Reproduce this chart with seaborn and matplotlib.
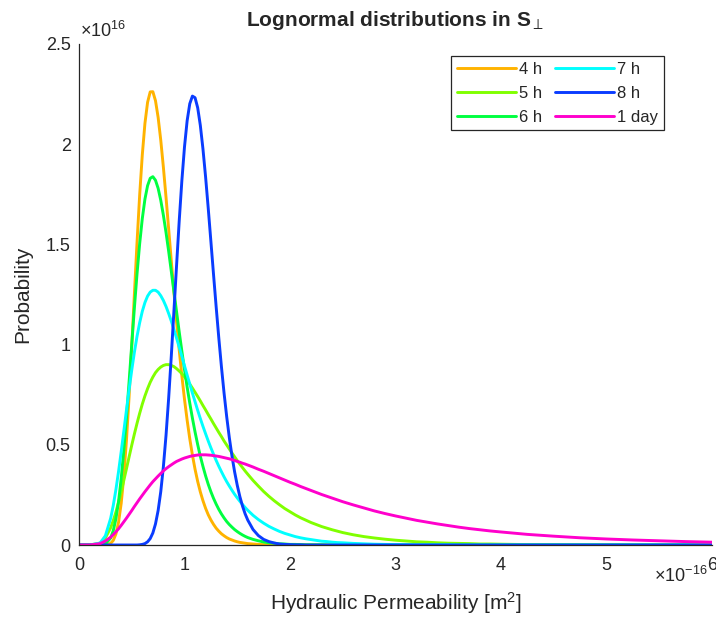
import numpy as np
import pandas as pd
import matplotlib
matplotlib.use("Agg")
import matplotlib.pyplot as plt
import seaborn as sns

sns.set_style("white")
plt.rcParams["font.family"] = ["Liberation Sans", "DejaVu Sans"]
plt.rcParams["mathtext.fontset"] = "custom"
plt.rcParams["mathtext.rm"] = "Liberation Sans"
plt.rcParams["mathtext.it"] = "Liberation Sans:italic"
plt.rcParams["mathtext.bf"] = "Liberation Sans:bold"

# Hydraulic permeability (x 1e-16 m^2)
x_perm = [0, 0.1, 0.2, 0.25,
          0.3, 0.325, 0.35, 0.375, 0.4, 0.425, 0.45, 0.475, 0.5, 0.525, 0.55, 0.575, 0.6, 0.625,
          0.65, 0.675, 0.7, 0.725, 0.75, 0.775, 0.8, 0.825, 0.85, 0.875, 0.9, 0.925, 0.95, 0.975,
          1.0, 1.025, 1.05, 1.075, 1.1, 1.125, 1.15, 1.175, 1.2, 1.225, 1.25, 1.275, 1.3, 1.325,
          1.35, 1.375, 1.4, 1.425, 1.45, 1.475, 1.5, 1.525, 1.55, 1.575, 1.6,
          1.65, 1.7, 1.75, 1.8, 1.85, 1.9, 1.95, 2.0, 2.05, 2.1, 2.15, 2.2, 2.25, 2.3, 2.35, 2.4,
          2.45, 2.5,
          2.6, 2.7, 2.8, 2.9, 3.0, 3.1, 3.2, 3.3, 3.4, 3.5, 3.6, 3.7, 3.8, 3.9, 4.0,
          4.25, 4.5, 4.75, 5.0, 5.25, 5.5, 5.75, 6.0]

# Probability (x 1e16) for each series
y_4h = [0, 0, 0, 0.001,
        0.008, 0.023, 0.055, 0.114, 0.208, 0.344, 0.524, 0.743, 0.991, 1.252, 1.509, 1.746, 1.947,
        2.104, 2.209, 2.261, 2.262, 2.217, 2.134, 2.020, 1.884, 1.734, 1.576, 1.417, 1.261, 1.112,
        0.972, 0.844, 0.727, 0.623, 0.530, 0.449, 0.378, 0.317, 0.265, 0.221, 0.183, 0.151, 0.125,
        0.103, 0.084, 0.069, 0.056, 0.046, 0.037, 0.030, 0.025, 0.020, 0.016, 0.013, 0.011, 0.009,
        0.007,
        0.005, 0.003, 0.002, 0.001, 0.001, 0.001, 0, 0, 0, 0, 0, 0, 0, 0, 0, 0, 0, 0,
        0, 0, 0, 0, 0, 0, 0, 0, 0, 0, 0, 0, 0, 0, 0,
        0, 0, 0, 0, 0, 0, 0, 0]

y_5h = [0, 0, 0.009, 0.035,
        0.086, 0.122, 0.165, 0.214, 0.267, 0.323, 0.381, 0.440, 0.498, 0.554, 0.607, 0.657, 0.703,
        0.744, 0.780, 0.812, 0.838, 0.860, 0.876, 0.888, 0.896, 0.900, 0.900, 0.896, 0.890, 0.880,
        0.868, 0.855, 0.839, 0.821, 0.803, 0.783, 0.762, 0.741, 0.719, 0.696, 0.674, 0.651, 0.629,
        0.606, 0.584, 0.562, 0.541, 0.519, 0.499, 0.479, 0.459, 0.440, 0.421, 0.403, 0.386, 0.369,
        0.353,
        0.322, 0.294, 0.267, 0.243, 0.221, 0.201, 0.182, 0.166, 0.150, 0.136, 0.124, 0.112, 0.102,
        0.092, 0.084, 0.076, 0.069, 0.062,
        0.051, 0.042, 0.035, 0.029, 0.024, 0.020, 0.016, 0.014, 0.011, 0.009, 0.008, 0.007, 0.005,
        0.005, 0.004,
        0.002, 0.002, 0.001, 0.001, 0, 0, 0, 0]

y_6h = [0, 0, 0, 0.005,
        0.035, 0.072, 0.131, 0.217, 0.332, 0.474, 0.637, 0.816, 1.001, 1.183, 1.353, 1.503, 1.629,
        1.726, 1.793, 1.830, 1.838, 1.820, 1.780, 1.720, 1.645, 1.559, 1.465, 1.365, 1.264, 1.163,
        1.063, 0.967, 0.875, 0.788, 0.708, 0.633, 0.564, 0.501, 0.443, 0.392, 0.345, 0.303, 0.266,
        0.233, 0.204, 0.178, 0.155, 0.135, 0.117, 0.102, 0.089, 0.077, 0.067, 0.058, 0.050, 0.043,
        0.037,
        0.028, 0.021, 0.015, 0.011, 0.009, 0.006, 0.005, 0.003, 0.003, 0.002, 0.001, 0.001, 0.001,
        0.001, 0, 0, 0, 0,
        0, 0, 0, 0, 0, 0, 0, 0, 0, 0, 0, 0, 0, 0, 0,
        0, 0, 0, 0, 0, 0, 0, 0]

y_7h = [0, 0, 0.010, 0.046,
        0.133, 0.198, 0.277, 0.367, 0.466, 0.569, 0.674, 0.776, 0.873, 0.962, 1.041, 1.109, 1.166,
        1.210, 1.242, 1.262, 1.271, 1.271, 1.262, 1.244, 1.220, 1.190, 1.155, 1.117, 1.075, 1.032,
        0.987, 0.941, 0.894, 0.848, 0.803, 0.758, 0.715, 0.672, 0.631, 0.592, 0.555, 0.519, 0.485,
        0.453, 0.422, 0.393, 0.366, 0.340, 0.316, 0.294, 0.273, 0.253, 0.235, 0.218, 0.202, 0.187,
        0.173,
        0.148, 0.127, 0.109, 0.093, 0.080, 0.068, 0.058, 0.050, 0.042, 0.036, 0.031, 0.027, 0.023,
        0.019, 0.017, 0.014, 0.012, 0.011,
        0.008, 0.006, 0.004, 0.003, 0.002, 0.002, 0.001, 0.001, 0.001, 0.001, 0, 0, 0, 0, 0,
        0, 0, 0, 0, 0, 0, 0, 0]

y_8h = [0, 0, 0, 0,
        0, 0, 0, 0, 0, 0, 0, 0, 0, 0, 0, 0.001, 0.003, 0.007, 0.016, 0.032, 0.060, 0.105, 0.172,
        0.266, 0.392, 0.548, 0.734, 0.944, 1.169, 1.397, 1.618, 1.818, 1.987, 2.117, 2.202, 2.240,
        2.232, 2.182, 2.094, 1.976, 1.836, 1.680, 1.516, 1.351, 1.189, 1.034, 0.890, 0.758, 0.640,
        0.535, 0.444, 0.365, 0.298, 0.241, 0.194, 0.155, 0.124,
        0.077, 0.047, 0.028, 0.017, 0.010, 0.005, 0.003, 0.002, 0.001, 0.001, 0, 0, 0, 0, 0, 0,
        0, 0,
        0, 0, 0, 0, 0, 0, 0, 0, 0, 0, 0, 0, 0, 0, 0,
        0, 0, 0, 0, 0, 0, 0, 0]

y_1day = [0, 0, 0.007, 0.020,
          0.039, 0.052, 0.066, 0.081, 0.098, 0.116, 0.134, 0.153, 0.172, 0.192, 0.211, 0.230,
          0.248, 0.266, 0.283, 0.300, 0.316, 0.330, 0.344, 0.357, 0.370, 0.381, 0.391, 0.400,
          0.409, 0.417, 0.423, 0.429, 0.434, 0.438, 0.442, 0.445, 0.447, 0.449, 0.450, 0.450,
          0.450, 0.449, 0.448, 0.446, 0.444, 0.442, 0.439, 0.436, 0.433, 0.430, 0.426, 0.422,
          0.417, 0.413, 0.408, 0.404, 0.399,
          0.389, 0.378, 0.368, 0.357, 0.346, 0.335, 0.324, 0.313, 0.303, 0.292, 0.282, 0.272,
          0.262, 0.252, 0.243, 0.234, 0.225, 0.216,
          0.200, 0.185, 0.170, 0.157, 0.145, 0.134, 0.123, 0.114, 0.105, 0.097, 0.089, 0.082,
          0.076, 0.070, 0.065,
          0.053, 0.044, 0.036, 0.030, 0.025, 0.021, 0.017, 0.014]

series = ["4 h", "5 h", "6 h", "7 h", "8 h", "1 day"]
values = [y_4h, y_5h, y_6h, y_7h, y_8h, y_1day]
colors = ["#FFB300", "#80FF00", "#00FF40", "#00FFFF", "#0A3CFF", "#FF00CC"]
x_ticks = [0, 1, 2, 3, 4, 5, 6]
y_ticks = [0, 0.5, 1, 1.5, 2, 2.5]
y_tick_labels = ["0", "0.5", "1", "1.5", "2", "2.5"]

for name, v in zip(series, values):
    if len(v) != len(x_perm):
        raise ValueError(f"{name}: {len(v)} values vs {len(x_perm)} x")

df = pd.DataFrame({
    "perm": np.tile(x_perm, len(series)),
    "prob": np.concatenate(values),
    "series": np.repeat(series, len(x_perm)),
})

fig = plt.figure(figsize=(7.16, 6.17), dpi=100)
ax = fig.add_axes([79 / 716, 1 - 545 / 617, (712 - 79) / 716, (545 - 44) / 617])

for name, c in zip(series, colors):
    sub = df[df["series"] == name]
    sns.lineplot(data=sub, x="perm", y="prob", color=c, lw=2.1, label=name, ax=ax,
                 sort=False, estimator=None)

ax.set_xlim(0, 6)
ax.set_ylim(0, 2.5)
ax.set_xticks(x_ticks)
ax.set_yticks(y_ticks)
ax.set_yticklabels(y_tick_labels)
for sp in ["top", "right"]:
    ax.spines[sp].set_visible(False)
for sp in ["left", "bottom"]:
    ax.spines[sp].set_color("#262626")
    ax.spines[sp].set_linewidth(0.9)
ax.tick_params(direction="in", length=5, width=0.9, color="#262626",
               labelcolor="#262626", labelsize=13)
ax.tick_params(axis="x", pad=9)
ax.tick_params(axis="y", pad=6)

ax.set_xlabel("Hydraulic Permeability [m$^2$]", fontsize=15, color="#262626", labelpad=11)
ax.set_ylabel("Probability", fontsize=15, color="#262626", labelpad=10)
ax.set_title(r"Lognormal distributions in S$_\perp$", fontsize=15, fontweight="bold", pad=13)

fig.text(80 / 716, 1 - 31 / 617, r"$\times10^{16}$", fontsize=13, color="#262626",
         va="center", ha="left")
fig.text(654 / 716, 1 - 576 / 617, r"$\times10^{-16}$", fontsize=13, color="#262626",
         va="center", ha="left")

leg = ax.legend(loc="upper right", bbox_to_anchor=(0.924, 0.976), ncol=2, fontsize=12,
                frameon=True, fancybox=False, edgecolor="#262626", framealpha=1,
                handlelength=3.5, handletextpad=0.2, columnspacing=0.8,
                labelspacing=0.53, borderpad=0.35, borderaxespad=0)
leg.get_frame().set_linewidth(0.9)

fig.savefig("out.png", dpi=100)
